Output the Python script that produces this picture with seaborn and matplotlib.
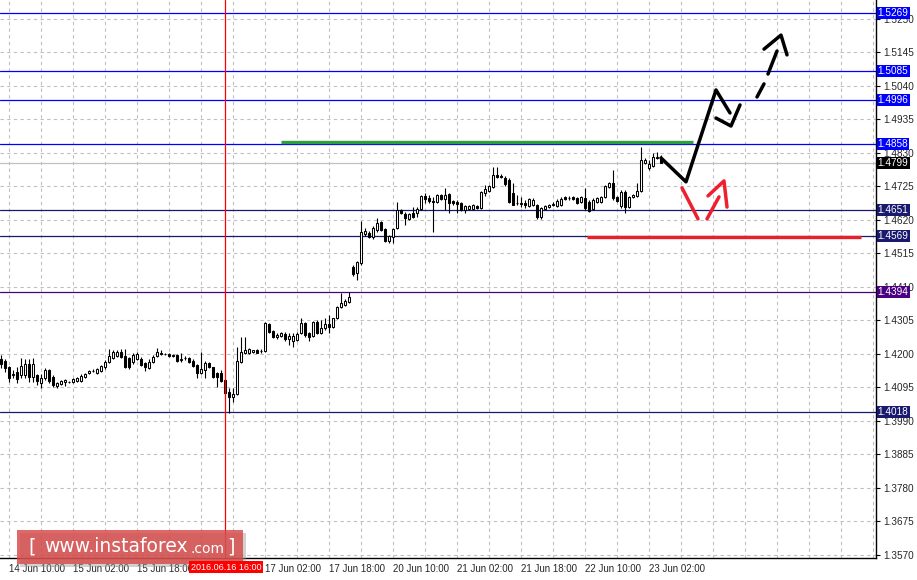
import numpy as np
import pandas as pd
import matplotlib
matplotlib.use('Agg')
import matplotlib.pyplot as plt
import seaborn as sns
from matplotlib.patches import Rectangle

# hourly GBPUSD bars, 14 Jun 08:00 .. 23 Jun 04:00, prices in points (1/10000)
opens = [14184, 14178, 14159, 14134, 14143, 14134, 14134, 14168, 14127, 14134,
         14109, 14124, 14149, 14127, 14099, 14106, 14112, 14112, 14112, 14115,
         14115, 14127, 14140, 14146, 14140, 14146, 14159, 14174, 14187, 14193,
         14206, 14193, 14187, 14174, 14184, 14184, 14171, 14156, 14174, 14193,
         14203, 14200, 14200, 14193, 14196, 14181, 14187, 14187, 14178, 14165,
         14140, 14149, 14171, 14159, 14140, 14140, 14118, 14080, 14065, 14074,
         14174, 14203, 14203, 14206, 14212, 14209, 14209, 14294, 14272, 14253,
         14256, 14262, 14247, 14240, 14243, 14265, 14297, 14265, 14256, 14300,
         14265, 14281, 14294, 14284, 14313, 14347, 14353, 14362, 14472, 14453,
         14485, 14575, 14578, 14566, 14588, 14613, 14591, 14554, 14566, 14594,
         14651, 14638, 14623, 14641, 14641, 14654, 14695, 14688, 14679, 14676,
         14698, 14685, 14701, 14679, 14676, 14673, 14651, 14654, 14654, 14664,
         14657, 14704, 14710, 14723, 14761, 14758, 14751, 14745, 14704, 14673,
         14670, 14673, 14664, 14667, 14667, 14629, 14654, 14660, 14667, 14664,
         14667, 14692, 14688, 14692, 14688, 14676, 14688, 14676, 14654, 14676,
         14676, 14692, 14723, 14736, 14692, 14664, 14707, 14660, 14692, 14695,
         14710, 14798, 14782, 14789, 14817, 14814]
highs = [14196, 14184, 14162, 14149, 14159, 14187, 14184, 14184, 14187, 14137,
         14137, 14156, 14152, 14134, 14112, 14118, 14121, 14115, 14124, 14127,
         14137, 14140, 14149, 14152, 14156, 14165, 14181, 14215, 14212, 14212,
         14215, 14215, 14190, 14203, 14206, 14190, 14174, 14184, 14196, 14218,
         14212, 14203, 14203, 14200, 14200, 14203, 14193, 14190, 14184, 14168,
         14206, 14178, 14174, 14160, 14143, 14149, 14121, 14093, 14093, 14222,
         14253, 14253, 14218, 14212, 14215, 14215, 14299, 14297, 14275, 14265,
         14269, 14269, 14265, 14265, 14269, 14313, 14300, 14269, 14303, 14306,
         14306, 14313, 14322, 14313, 14350, 14391, 14372, 14394, 14478, 14491,
         14616, 14594, 14585, 14601, 14626, 14616, 14594, 14572, 14594, 14676,
         14654, 14645, 14641, 14660, 14660, 14698, 14704, 14698, 14692, 14701,
         14701, 14720, 14704, 14682, 14682, 14676, 14667, 14667, 14670, 14667,
         14710, 14729, 14729, 14786, 14786, 14764, 14758, 14751, 14736, 14698,
         14692, 14682, 14688, 14688, 14670, 14660, 14667, 14670, 14676, 14685,
         14692, 14695, 14695, 14695, 14692, 14695, 14720, 14682, 14688, 14692,
         14695, 14729, 14739, 14776, 14695, 14714, 14714, 14695, 14701, 14736,
         14848, 14814, 14808, 14829, 14833, 14823]
lows = [14156, 14143, 14112, 14124, 14109, 14124, 14124, 14112, 14112, 14102,
        14093, 14118, 14109, 14096, 14093, 14102, 14099, 14109, 14109, 14112,
        14112, 14124, 14137, 14143, 14137, 14143, 14152, 14171, 14184, 14190,
        14187, 14156, 14152, 14168, 14181, 14162, 14146, 14152, 14171, 14190,
        14196, 14196, 14190, 14190, 14174, 14174, 14181, 14171, 14159, 14124,
        14137, 14124, 14156, 14124, 14096, 14112, 14074, 14015, 14049, 14071,
        14172, 14200, 14200, 14203, 14203, 14203, 14206, 14265, 14250, 14247,
        14253, 14240, 14228, 14222, 14240, 14262, 14253, 14240, 14253, 14262,
        14262, 14275, 14265, 14281, 14309, 14344, 14350, 14359, 14444, 14431,
        14478, 14569, 14563, 14560, 14582, 14585, 14552, 14547, 14547, 14591,
        14638, 14604, 14620, 14626, 14629, 14651, 14673, 14673, 14582, 14673,
        14682, 14651, 14641, 14667, 14641, 14648, 14641, 14651, 14651, 14654,
        14654, 14695, 14707, 14720, 14751, 14751, 14726, 14673, 14667, 14667,
        14660, 14657, 14660, 14664, 14623, 14623, 14651, 14657, 14664, 14660,
        14664, 14682, 14682, 14682, 14670, 14673, 14651, 14645, 14651, 14673,
        14673, 14688, 14720, 14682, 14677, 14657, 14641, 14657, 14688, 14692,
        14707, 14795, 14776, 14786, 14811, 14798]
closes = [14168, 14156, 14124, 14137, 14121, 14162, 14168, 14127, 14168, 14115,
          14124, 14149, 14115, 14102, 14109, 14115, 14118, 14113, 14121, 14124,
          14131, 14137, 14146, 14147, 14152, 14162, 14174, 14193, 14206, 14206,
          14190, 14159, 14159, 14196, 14200, 14165, 14159, 14174, 14190, 14206,
          14200, 14199, 14193, 14196, 14178, 14184, 14186, 14174, 14162, 14140,
          14152, 14171, 14159, 14127, 14127, 14115, 14077, 14065, 14074, 14178,
          14206, 14212, 14215, 14212, 14203, 14210, 14297, 14268, 14253, 14259,
          14265, 14247, 14256, 14256, 14262, 14297, 14259, 14253, 14300, 14265,
          14281, 14294, 14284, 14313, 14347, 14359, 14366, 14378, 14450, 14488,
          14582, 14585, 14566, 14594, 14610, 14588, 14554, 14569, 14591, 14651,
          14641, 14626, 14638, 14629, 14654, 14695, 14685, 14679, 14676, 14698,
          14685, 14698, 14673, 14673, 14670, 14651, 14664, 14664, 14667, 14657,
          14707, 14716, 14726, 14761, 14754, 14754, 14732, 14676, 14667, 14672,
          14673, 14667, 14685, 14682, 14629, 14657, 14664, 14667, 14669, 14679,
          14685, 14685, 14689, 14685, 14673, 14692, 14657, 14648, 14682, 14688,
          14692, 14726, 14736, 14688, 14679, 14707, 14660, 14692, 14698, 14710,
          14808, 14808, 14795, 14817, 14814, 14799]

time_label_bars = [2, 18, 34, 66, 82, 98, 114, 130, 146, 162]
time_labels = ['14 Jun 10:00', '15 Jun 02:00', '15 Jun 18:00', '17 Jun 02:00',
               '17 Jun 18:00', '20 Jun 10:00', '21 Jun 02:00', '21 Jun 18:00',
               '22 Jun 10:00', '23 Jun 02:00']
price_ticks = [1.3570, 1.3675, 1.3780, 1.3885, 1.3990, 1.4095, 1.4200, 1.4305,
               1.4410, 1.4515, 1.4620, 1.4725, 1.4830, 1.4935, 1.5040, 1.5145, 1.5250]

level_prices = [1.5269, 1.5085, 1.4996, 1.4858, 1.4651, 1.4569, 1.4394, 1.4018]
level_colors = ['#0000ff', '#0000ff', '#0000ff', '#0000ff',
                '#191970', '#191970', '#4b0082', '#191970']
last_price = 1.4799
cross_bar = 56
cross_label = '2016.06.16 16:00'

# forecast drawing (bar index, price)
green_bars, green_price = [70, 173], 1.4864
red_bars, red_price = [146.5, 215], 1.4566
black_strokes = [
    ([165, 171.25, 178.75, 182.25], [1.4814, 1.4739, 1.5027, 1.4955]),
    ([178.75, 182.5, 184.75], [1.4939, 1.4914, 1.4980]),
    ([189, 190.75], [1.5005, 1.5046]),
    ([191.75, 194], [1.5077, 1.5149]),
    ([190.75, 195, 196.5], [1.5155, 1.5199, 1.5137]),
]
red_strokes = [
    ([170.25, 174.25], [1.4720, 1.4623]),
    ([176.5, 179.5], [1.4623, 1.4692]),
    ([176.75, 180.75, 181.5], [1.4695, 1.4742, 1.4660]),
]

sns.set_theme(style='white')
plt.rcParams['font.family'] = ['Liberation Sans', 'DejaVu Sans']

df = pd.DataFrame({'open': np.array(opens) / 10000, 'high': np.array(highs) / 10000,
                   'low': np.array(lows) / 10000, 'close': np.array(closes) / 10000})
df['bar'] = np.arange(len(df))
df['bull'] = df['close'] >= df['open']

fig = plt.figure(figsize=(9.17, 5.8), dpi=100)
ax = fig.add_axes([0, 22 / 580, 876 / 917, 558 / 580])
ax.set_xlim(-0.25, 218.75)
ax.set_ylim(1.3560, 1.5309)

# grid
grid_bars = list(range(2, 219, 8))
ax.set_xticks(time_label_bars)
ax.set_xticklabels(time_labels, ha='left', fontsize=7)
ax.set_xticks([b for b in grid_bars if b not in time_label_bars], minor=True)
ax.yaxis.tick_right()
ax.set_yticks(price_ticks)
ax.set_yticklabels([f'{p:.4f}' for p in price_ticks], fontsize=7.2)
ax.tick_params(axis='x', which='major', length=3, width=0.8, pad=1, color='black')
ax.tick_params(axis='x', which='minor', length=0)
ax.tick_params(axis='y', length=3, width=0.8, pad=2, color='black')
ax.grid(True, which='both', color='#c0c0c0', linestyle=(0, (3, 3)), linewidth=0.8)
for s in ['left', 'top']:
    ax.spines[s].set_visible(False)
for s in ['right', 'bottom']:
    ax.spines[s].set_color('black')
    ax.spines[s].set_linewidth(1)

# levels
for p, c in zip(level_prices, level_colors):
    ax.axhline(p, color=c, lw=0.9, zorder=1)
ax.axhline(last_price, color='#c0c0c0', lw=0.9, zorder=1)

# candles
ax.vlines(df['bar'], df['low'], df['high'], color='black', lw=0.8, zorder=2)
body_lo = df[['open', 'close']].min(axis=1)
body_h = (df['close'] - df['open']).abs()
ax.bar(df['bar'], body_h, bottom=body_lo, width=0.66,
       color=np.where(df['bull'], 'white', 'black'), edgecolor='black', linewidth=0.75, zorder=3)
ax.axvline(cross_bar, color='red', lw=0.9, zorder=3.5)

# forecast marks
ax.plot(green_bars, [green_price] * 2, color='#2e9e3e', lw=2.4, zorder=4, solid_capstyle='butt')
ax.plot(red_bars, [red_price] * 2, color='#e8202a', lw=2.4, zorder=4, solid_capstyle='butt')
for xs, ys in black_strokes:
    sns.lineplot(x=xs, y=ys, sort=False, estimator=None, color='black', lw=2.5, ax=ax, zorder=5)
for xs, ys in red_strokes:
    sns.lineplot(x=xs, y=ys, sort=False, estimator=None, color='#ee2030', lw=2.5, ax=ax, zorder=5)
ax.set_xlabel('')
ax.set_ylabel('')

# price boxes on the right scale
ytr = ax.get_yaxis_transform()
for p, c in zip(level_prices + [last_price], level_colors + ['black']):
    ax.text(1.002, p, f'{p:.4f}', transform=ytr, color='white', fontsize=7.2, ha='left', va='center',
            clip_on=False, zorder=10,
            bbox=dict(boxstyle='square,pad=0.1', facecolor=c, edgecolor='none'))

# crosshair time box
fig.text(226 / 917, 1 - 567 / 580, cross_label, color='white', fontsize=6.5, ha='center', va='center',
         zorder=10, bbox=dict(boxstyle='square,pad=0.15', facecolor='#ff0000', edgecolor='none'))

# watermark
fig.patches.append(Rectangle((20 / 917, 1 - 567 / 580), 226 / 917, 34 / 580, transform=fig.transFigure,
                             facecolor='#9a9a9a', alpha=0.45, edgecolor='none', zorder=8))
fig.patches.append(Rectangle((17 / 917, 1 - 564 / 580), 226 / 917, 34 / 580, transform=fig.transFigure,
                             facecolor='#d84848', alpha=0.82, edgecolor='none', zorder=9))
ty = 1 - 547 / 580
logo_font = ['DejaVu Sans']
fig.text(28 / 917, ty, '[', color='white', fontsize=14, family=logo_font, ha='left', va='center', zorder=11)
fig.text(44 / 917, ty, 'www.instaforex', color='white', fontsize=13.5, family=logo_font,
         ha='left', va='center', zorder=11)
fig.text(191 / 917, ty - 0.003, '.com', color='white', fontsize=10, family=logo_font,
         ha='left', va='center', zorder=11)
fig.text(227 / 917, ty, ']', color='white', fontsize=14, family=logo_font, ha='left', va='center', zorder=11)

fig.savefig('out.png', dpi=100)
